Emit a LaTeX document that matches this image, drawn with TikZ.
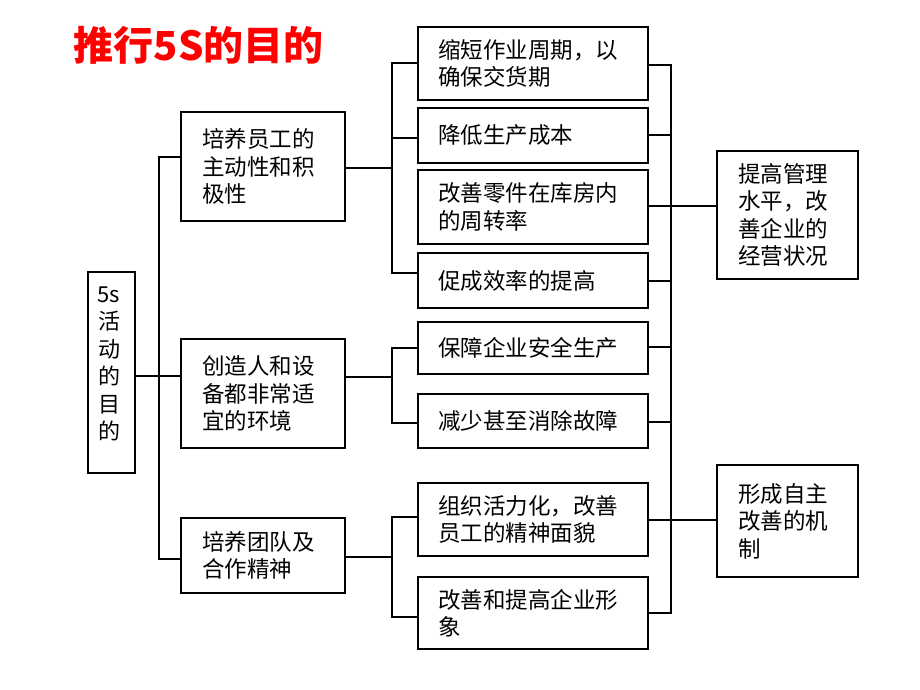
\documentclass[tikz,border=0pt]{standalone}
\usepackage{fontspec}
\setmainfont{Noto Sans CJK SC}
\begin{document}
\begin{tikzpicture}[x=1pt,y=-1pt,
  line width=1.6pt,
  conn/.style={draw, line width=1.6pt, line join=miter},
  box/.style={draw, line width=1.6pt, inner ysep=0pt, align=left,
    font=\fontsize{22.5}{27.5}\selectfont},
  midbox/.style={box, inner xsep=21pt, text width=122pt},
  rbox/.style={box, inner xsep=20pt, text width=190pt},
  bigbox/.style={box, inner xsep=21pt, text width=99pt},
  titlestyle/.style={text=red, inner sep=0pt, font=\fontsize{40}{40}\selectfont\bfseries}]
\useasboundingbox[fill=white] (0,0) rectangle (920,690);

% title
\node[titlestyle, anchor=west] (title) at (73,45) {推行5S的目的};

% root
\node[draw, line width=1.6pt, minimum width=47pt, minimum height=201pt, inner sep=0pt] (root) at (111.5,372.5) {};
\node[align=center, inner sep=0pt, font=\fontsize{22}{27.5}\selectfont] (roottext) at (109,364) {5s\\活\\动\\的\\目\\的};

% middle column
\node[midbox, minimum height=109pt] (m1) at (263,166.5) {培养员工的\\主动性和积\\极性};
\node[midbox, minimum height=109pt] (m2) at (263,393.5) {创造人和设\\备都非常适\\宜的环境};
\node[midbox, minimum height=75pt] (m3) at (263,555.5) {培养团队及\\合作精神};

% right column
\node[rbox, minimum height=73pt] (rA) at (533,63.5) {缩短作业周期，以\\确保交货期};
\node[rbox, minimum height=55pt] (rB) at (533,135.5) {降低生产成本};
\node[rbox, minimum height=74pt] (rC) at (533,207) {改善零件在库房内\\的周转率};
\node[rbox, minimum height=55pt] (rD) at (533,280.5) {促成效率的提高};
\node[rbox, minimum height=52pt] (rE) at (533,348) {保障企业安全生产};
\node[rbox, minimum height=54pt] (rF) at (533,421) {减少甚至消除故障};
\node[rbox, minimum height=73pt] (rG) at (533,519.5) {组织活力化，改善\\员工的精神面貌};
\node[rbox, minimum height=72pt] (rH) at (533,613) {改善和提高企业形\\象};

% far right
\node[bigbox, minimum height=128pt] (b1) at (787.5,215) {提高管理\\水平，改\\善企业的\\经营状况};
\node[bigbox, minimum height=112pt] (b2) at (787.5,521) {形成自主\\改善的机\\制};

% bus coordinates
\coordinate (busL) at (159,0);
\coordinate (busM) at (392,0);
\coordinate (busR) at (671,0);

% left connectors
\draw[conn] (root.east |- 0,376) -- (m2.west |- 0,376);
\draw[conn] (m1.west |- 0,157) -- (busL |- 0,157) -- (busL |- 0,559) -- (m3.west |- 0,559);

% middle to right column
\draw[conn] (m1.east |- 0,168) -- (busM |- 0,168);
\draw[conn] (rA.west |- 0,63) -- (busM |- 0,63) -- (busM |- 0,273) -- (rD.west |- 0,273);
\draw[conn] (rB.west |- 0,138) -- (busM |- 0,138);

\draw[conn] (m2.east |- 0,377) -- (busM |- 0,377);
\draw[conn] (rE.west |- 0,348) -- (busM |- 0,348) -- (busM |- 0,423) -- (rF.west |- 0,423);

\draw[conn] (m3.east |- 0,557) -- (busM |- 0,557);
\draw[conn] (rG.west |- 0,517) -- (busM |- 0,517) -- (busM |- 0,617) -- (rH.west |- 0,617);

% right bus
\draw[conn] (rA.east |- 0,65) -- (busR |- 0,65) -- (busR |- 0,613) -- (rH.east |- 0,613);
\draw[conn] (rB.east |- 0,135) -- (busR |- 0,135);
\draw[conn] (rC.east |- 0,206) -- (b1.west |- 0,206);
\draw[conn] (rD.east |- 0,281) -- (busR |- 0,281);
\draw[conn] (rE.east |- 0,347) -- (busR |- 0,347);
\draw[conn] (rF.east |- 0,422) -- (busR |- 0,422);
\draw[conn] (rG.east |- 0,520) -- (b2.west |- 0,520);
\end{tikzpicture}
\end{document}
